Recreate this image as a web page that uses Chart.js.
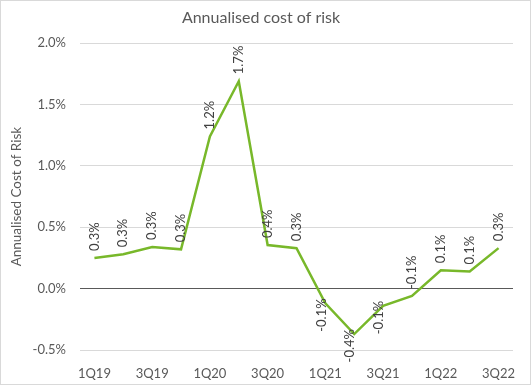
<!DOCTYPE html>
<html>
<head>
<meta charset="utf-8">
<script src="https://cdn.jsdelivr.net/npm/chart.js@4"></script>
<style>
	html, body { margin: 0; padding: 0; background: #fff; }
	#wrap { width: 531px; height: 385px; position: relative; }
</style>
</head>
<body>
<div id="wrap"><canvas id="myChart"></canvas></div>
<script>
"use strict";

// quarters and annualised cost of risk, in percent
const quarters = ['1Q19', '2Q19', '3Q19', '4Q19', '1Q20', '2Q20', '3Q20', '4Q20',
	'1Q21', '2Q21', '3Q21', '4Q21', '1Q22', '2Q22', '3Q22'];
const costOfRisk = [0.25, 0.28, 0.34, 0.32, 1.24, 1.69, 0.355, 0.33,
	-0.12, -0.37, -0.14, -0.06, 0.15, 0.14, 0.33];
const yTicks = [-0.5, 0.0, 0.5, 1.0, 1.5, 2.0];

const FONT = 'Lato, "Open Sans", sans-serif';
const GREY = '#595959';

// white background and the thin frame round the chart
const frame = {
	id: 'frame',
	beforeDraw: (chart) => {
		const ctx = chart.ctx;
		ctx.save();
		ctx.fillStyle = '#fff';
		ctx.fillRect(0, 0, chart.width, chart.height);
		ctx.strokeStyle = '#d9d9d9';
		ctx.lineWidth = 1;
		ctx.strokeRect(0.5, 0.5, chart.width - 1, chart.height - 1);
		ctx.restore();
	}
};

// rotated value labels, like the excel ones
const valueLabels = {
	id: 'valueLabels',
	afterDatasetsDraw: (chart) => {
		const ctx = chart.ctx;
		const meta = chart.getDatasetMeta(0);
		const data = chart.data.datasets[0].data;
		ctx.save();
		ctx.font = '13px ' + FONT;
		ctx.fillStyle = '#404040';
		ctx.textBaseline = 'middle';
		meta.data.forEach((pt, i) => {
			const v = data[i];
			const txt = v.toFixed(1) + '%';
			ctx.save();
			if (v < -0.1) {
				ctx.translate(pt.x - 4, pt.y - 5);
				ctx.rotate(-Math.PI / 2);
				ctx.textAlign = 'right';
			} else {
				ctx.translate(pt.x, pt.y - 7);
				ctx.rotate(-Math.PI / 2);
				ctx.textAlign = 'left';
			}
			ctx.fillText(txt, 0, 0);
			ctx.restore();
		});
		ctx.restore();
	}
};

const data = {
	labels: quarters,
	datasets: [
		{
			label: 'Annualised cost of risk',
			data: costOfRisk,
			borderColor: '#78b82a',
			borderWidth: 2.5,
			pointRadius: 0,
			tension: 0,
			fill: false
		}
	]
};

const config = {
	type: 'line',
	data: data,
	options: {
		responsive: true,
		maintainAspectRatio: false,
		animation: false,
		layout: { padding: { left: 9, right: 18, top: 0, bottom: 0 } },
		plugins: {
			legend: { display: false },
			tooltip: { enabled: false },
			title: {
				display: true,
				text: 'Annualised cost of risk',
				color: GREY,
				font: { family: FONT, size: 16, weight: 'normal' },
				padding: { top: 8, bottom: 16 }
			}
		},
		scales: {
			x: {
				offset: true,
				grid: { display: false },
				border: { display: false },
				ticks: {
					autoSkip: false,
					maxRotation: 0,
					color: GREY,
					font: { family: FONT, size: 13 },
					padding: 8,
					callback: (val, i) => (i % 2 === 0 ? quarters[i] : '')
				},
				afterFit: (scale) => { scale.height = 35; }
			},
			y: {
				min: -0.5,
				max: 2.0,
				afterBuildTicks: (scale) => {
					scale.ticks = yTicks.map(v => ({ value: v }));
				},
				grid: {
					color: (c) => (c.tick && c.tick.value === 0 ? GREY : '#d9d9d9'),
					lineWidth: 1,
					drawTicks: false
				},
				border: { display: false },
				ticks: {
					color: GREY,
					font: { family: FONT, size: 13 },
					padding: 14,
					callback: (v) => v.toFixed(1) + '%'
				},
				title: {
					display: true,
					text: 'Annualised Cost of Risk',
					color: GREY,
					font: { family: FONT, size: 13.5 },
					padding: { top: 0, bottom: 5 }
				},
				afterFit: (scale) => { scale.width = 71; }
			}
		}
	},
	plugins: [frame, valueLabels]
};

const myChart = new Chart(document.getElementById('myChart'), config);
</script>
</body>
</html>
